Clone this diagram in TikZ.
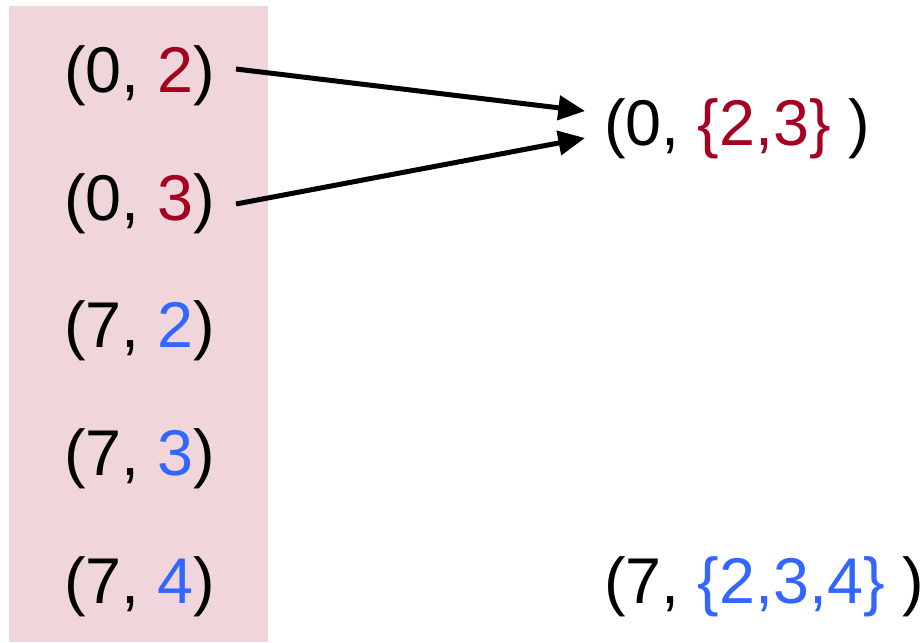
\documentclass[tikz,border=0pt]{standalone}
\usepackage{fontspec}
\setmainfont{Liberation Sans}
\usetikzlibrary{arrows.meta}
\definecolor{pinkbg}{HTML}{F0D5DA}
\definecolor{redv}{HTML}{A50021}
\definecolor{bluev}{HTML}{3366FF}
\begin{document}
\begin{tikzpicture}[x=0.75pt,y=-0.75pt,
  lbl/.style={anchor=base west, inner sep=0pt, font=\fontsize{48.5}{50}\selectfont},
  arr/.style={line width=3.75pt, -{Triangle[length=20pt,width=18pt]}}]
\useasboundingbox (0,0) rectangle (923,642);
\fill[pinkbg] (9,6) rectangle (268,642);
\node[lbl] (a1) at (64,92) {(0, \textcolor{redv}{2})};
\node[lbl] (a2) at (64,220) {(0, \textcolor{redv}{3})};
\node[lbl] (a3) at (64,347) {(7, \textcolor{bluev}{2})};
\node[lbl] (a4) at (64,475) {(7, \textcolor{bluev}{3})};
\node[lbl] (a5) at (64,603) {(7, \textcolor{bluev}{4})};
\node[lbl] (r1) at (604,145) {(0, \textcolor{redv}{\{2,3\}} )};
\node[lbl] (r2) at (604,603) {(7, \textcolor{bluev}{\{2,3,4\}} )};
\coordinate (s1) at (236,69);
\coordinate (s2) at (236,204);
\coordinate (e1) at (585,111);
\coordinate (e2) at (585,138);
\draw[arr] (s1) -- (e1);
\draw[arr] (s2) -- (e2);
\end{tikzpicture}
\end{document}
